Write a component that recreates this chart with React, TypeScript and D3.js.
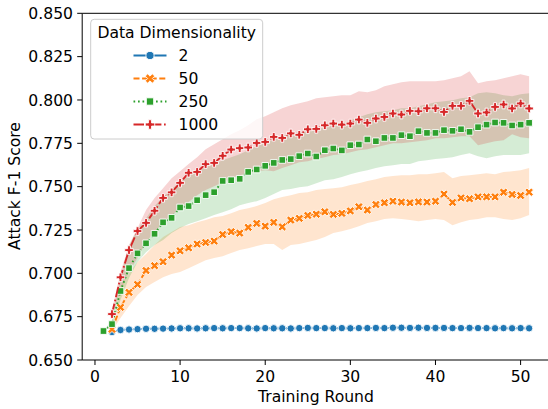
import React from "react";
import * as d3 from "d3";

// ---------- data ----------
const rounds1 = [1,2,3,4,5,6,7,8,9,10,11,12,13,14,15,16,17,18,19,20,21,22,23,24,25,26,27,28,29,30,31,32,33,34,35,36,37,38,39,40,41,42,43,44,45,46,47,48,49,50,51];
const rounds2 = [2,3,4,5,6,7,8,9,10,11,12,13,14,15,16,17,18,19,20,21,22,23,24,25,26,27,28,29,30,31,32,33,34,35,36,37,38,39,40,41,42,43,44,45,46,47,48,49,50,51];

const dim2Mean = [0.6661,0.6673,0.6676,0.6678,0.6680,0.6680,0.6681,0.6682,0.6683,0.6683,0.6682,0.6683,0.6684,0.6683,0.6684,0.6684,0.6683,0.6682,0.6684,0.6683,0.6683,0.6682,0.6684,0.6685,0.6684,0.6684,0.6683,0.6684,0.6683,0.6684,0.6684,0.6685,0.6684,0.6686,0.6686,0.6685,0.6686,0.6685,0.6685,0.6685,0.6684,0.6684,0.6685,0.6684,0.6684,0.6683,0.6684,0.6683,0.6684,0.6683];

const dim50Mean = [0.6677,0.6804,0.6890,0.6936,0.7016,0.7044,0.7067,0.7105,0.7130,0.7147,0.7169,0.7178,0.7186,0.7224,0.7240,0.7232,0.7265,0.7288,0.7272,0.7294,0.7268,0.7307,0.7317,0.7334,0.7341,0.7355,0.7340,0.7346,0.7360,0.7384,0.7365,0.7397,0.7407,0.7416,0.7411,0.7407,0.7412,0.7411,0.7416,0.7457,0.7409,0.7435,0.7430,0.7441,0.7441,0.7441,0.7468,0.7455,0.7449,0.7468];
const dim50Upper = [0.6684,0.6921,0.7001,0.7065,0.7111,0.7163,0.7209,0.7238,0.7267,0.7278,0.7295,0.7307,0.7324,0.7330,0.7347,0.7365,0.7376,0.7388,0.7405,0.7428,0.7440,0.7451,0.7463,0.7468,0.7480,0.7486,0.7491,0.7497,0.7509,0.7520,0.7532,0.7543,0.7555,0.7561,0.7566,0.7566,0.7572,0.7572,0.7578,0.7584,0.7549,0.7561,0.7566,0.7572,0.7578,0.7572,0.7584,0.7589,0.7595,0.7607];
const dim50Lower = [0.6667,0.6742,0.6811,0.6875,0.6921,0.6950,0.6978,0.6996,0.7007,0.7030,0.7053,0.7076,0.7088,0.7099,0.7117,0.7134,0.7145,0.7157,0.7169,0.7169,0.7134,0.7163,0.7169,0.7180,0.7192,0.7209,0.7232,0.7243,0.7255,0.7272,0.7290,0.7301,0.7313,0.7318,0.7313,0.7307,0.7301,0.7307,0.7313,0.7307,0.7278,0.7295,0.7307,0.7313,0.7324,0.7324,0.7313,0.7307,0.7318,0.7336];

const dim250Mean = [0.6667,0.6707,0.6898,0.7030,0.7115,0.7173,0.7228,0.7294,0.7320,0.7380,0.7388,0.7422,0.7451,0.7468,0.7533,0.7537,0.7545,0.7585,0.7599,0.7620,0.7637,0.7654,0.7659,0.7676,0.7691,0.7674,0.7710,0.7720,0.7709,0.7739,0.7743,0.7772,0.7762,0.7781,0.7781,0.7797,0.7791,0.7820,0.7810,0.7810,0.7826,0.7822,0.7831,0.7816,0.7843,0.7858,0.7870,0.7868,0.7853,0.7858,0.7868];
const dim250Upper = [0.6667,0.6731,0.6978,0.7157,0.7255,0.7318,0.7388,0.7440,0.7486,0.7526,0.7561,0.7589,0.7612,0.7630,0.7653,0.7670,0.7687,0.7710,0.7733,0.7751,0.7774,0.7791,0.7808,0.7814,0.7820,0.7831,0.7843,0.7854,0.7866,0.7883,0.7901,0.7918,0.7929,0.7935,0.7941,0.7952,0.7952,0.7964,0.7976,0.7987,0.7993,0.7999,0.8010,0.8016,0.8039,0.8045,0.8039,0.8027,0.8022,0.8033,0.8039];
const dim250Lower = [0.6667,0.6696,0.6846,0.6973,0.7065,0.7122,0.7163,0.7192,0.7232,0.7261,0.7284,0.7301,0.7318,0.7336,0.7353,0.7370,0.7393,0.7405,0.7416,0.7434,0.7457,0.7480,0.7486,0.7497,0.7503,0.7520,0.7537,0.7543,0.7555,0.7572,0.7584,0.7595,0.7607,0.7618,0.7624,0.7630,0.7630,0.7647,0.7653,0.7659,0.7664,0.7670,0.7682,0.7693,0.7676,0.7664,0.7676,0.7682,0.7682,0.7682,0.7693];

const dim1000Mean = [0.6765,0.6977,0.7134,0.7244,0.7291,0.7361,0.7435,0.7467,0.7522,0.7580,0.7585,0.7630,0.7637,0.7678,0.7714,0.7722,0.7726,0.7752,0.7758,0.7787,0.7781,0.7807,0.7799,0.7831,0.7833,0.7854,0.7864,0.7858,0.7864,0.7887,0.7868,0.7893,0.7902,0.7922,0.7916,0.7937,0.7935,0.7952,0.7952,0.7931,0.7966,0.7966,0.7995,0.7922,0.7928,0.7960,0.7974,0.7951,0.7980,0.7951];
const dim1000Upper = [0.6788,0.7007,0.7163,0.7261,0.7365,0.7434,0.7491,0.7549,0.7589,0.7630,0.7670,0.7716,0.7745,0.7774,0.7802,0.7825,0.7854,0.7889,0.7906,0.7929,0.7952,0.7970,0.7981,0.7993,0.8010,0.8016,0.8022,0.8027,0.8027,0.8050,0.8045,0.8056,0.8079,0.8091,0.8102,0.8108,0.8108,0.8108,0.8108,0.8114,0.8125,0.8137,0.8166,0.8096,0.8108,0.8114,0.8125,0.8137,0.8148,0.8137];
const dim1000Lower = [0.6748,0.6904,0.7007,0.7088,0.7180,0.7238,0.7295,0.7336,0.7370,0.7411,0.7451,0.7480,0.7503,0.7526,0.7549,0.7566,0.7578,0.7589,0.7595,0.7589,0.7607,0.7624,0.7641,0.7647,0.7659,0.7670,0.7682,0.7687,0.7699,0.7710,0.7716,0.7728,0.7739,0.7751,0.7751,0.7756,0.7762,0.7768,0.7779,0.7779,0.7785,0.7791,0.7791,0.7739,0.7751,0.7762,0.7768,0.7802,0.7785,0.7779];

const xTicks = [0, 10, 20, 30, 40, 50];
const yTicks = [0.65, 0.675, 0.7, 0.725, 0.75, 0.775, 0.8, 0.825, 0.85];
const legendLabels = ["2", "50", "250", "1000"];
const colors = ["#1f77b4", "#ff7f0e", "#2ca02c", "#d62728"];

// ---------- layout ----------
const W = 548, H = 409;
const FONT = "'DejaVu Sans', sans-serif";
const FS = 15.6;
const x = d3.scaleLinear().domain([-1.5, 53.5]).range([82.2, 550.4]);
const y = d3.scaleLinear().domain([0.65, 0.85]).range([360, 13.3]);

type Series = {
  label: string; color: string; rounds: number[]; mean: number[];
  lower?: number[]; upper?: number[]; dash: string; marker: string;
};

const series: Series[] = [
  { label: legendLabels[0], color: colors[0], rounds: rounds2, mean: dim2Mean, dash: "none", marker: "o" },
  { label: legendLabels[1], color: colors[1], rounds: rounds2, mean: dim50Mean, lower: dim50Lower, upper: dim50Upper, dash: "6,2.6", marker: "X" },
  { label: legendLabels[2], color: colors[2], rounds: rounds1, mean: dim250Mean, lower: dim250Lower, upper: dim250Upper, dash: "1.7,2.8", marker: "s" },
  { label: legendLabels[3], color: colors[3], rounds: rounds2, mean: dim1000Mean, lower: dim1000Lower, upper: dim1000Upper, dash: "10.5,2.6,1.7,2.6", marker: "P" },
];

function markerPath(kind: string, ms: number): string {
  const pts = (arr: number[][], div: number) =>
    "M" + arr.map(([a, b]) => `${(a / div) * ms},${(b / div) * ms}`).join("L") + "Z";
  if (kind === "X") {
    return pts([[-1,-2],[0,-1],[1,-2],[2,-1],[1,0],[2,1],[1,2],[0,1],[-1,2],[-2,1],[-1,0],[-2,-1]], 4);
  }
  if (kind === "P") {
    return pts([[-1,-3],[-1,-1],[-3,-1],[-3,1],[-1,1],[-1,3],[1,3],[1,1],[3,1],[3,-1],[1,-1],[1,-3]], 6);
  }
  if (kind === "s") {
    const h = ms * 0.3536;
    return `M${-h},${-h}L${h},${-h}L${h},${h}L${-h},${h}Z`;
  }
  const r = ms / 2;
  return `M${r},0A${r},${r} 0 1,1 ${-r},0A${r},${r} 0 1,1 ${r},0Z`;
}

function msFor(kind: string): number {
  if (kind === "o") return 7.4;
  if (kind === "s") return 9.4;
  return 8.6;
}

export default function App() {
  const bands = series.filter(s => s.lower && s.upper).map(s => {
    const idx = s.rounds.map((_, i) => i);
    const gen = d3.area<number>()
      .x(i => x(s.rounds[i]))
      .y0(i => y(s.lower![i]))
      .y1(i => y(s.upper![i]));
    return <path key={"band" + s.label} d={gen(idx) || ""} fill={s.color} fillOpacity={0.2} stroke="none" />;
  });

  const lines = series.map(s => {
    const idx = s.rounds.map((_, i) => i);
    const gen = d3.line<number>().x(i => x(s.rounds[i])).y(i => y(s.mean[i]));
    const ms = msFor(s.marker);
    const mp = markerPath(s.marker, ms);
    return (
      <g key={"line" + s.label}>
        <path d={gen(idx) || ""} fill="none" stroke={s.color} strokeWidth={1.9}
          strokeDasharray={s.dash === "none" ? undefined : s.dash} />
        {idx.map(i => (
          <path key={i} d={mp} transform={`translate(${x(s.rounds[i])},${y(s.mean[i])})`}
            fill={s.color} stroke="#fff" strokeWidth={0.9} />
        ))}
      </g>
    );
  });

  const left = 82.2, bottom = 360, top = 13.3;

  const legendRows = series.map((s, i) => {
    const cy = 55.5 + i * 23;
    const ms = msFor(s.marker) * 1.1;
    return (
      <g key={"leg" + s.label}>
        <line x1={133.5} x2={166.5} y1={cy} y2={cy} stroke={s.color} strokeWidth={1.9}
          strokeDasharray={s.dash === "none" ? undefined : s.dash} />
        <path d={markerPath(s.marker, ms)} transform={`translate(150,${cy})`} fill={s.color} stroke="#fff" strokeWidth={0.9} />
        <text x={178.5} y={cy + 5.7} fontSize={FS} fontFamily={FONT} fill="#000">{s.label}</text>
      </g>
    );
  });

  return (
    <svg width={W} height={H} style={{ position: "absolute", left: 0, top: 0, background: "#fff" }}
      xmlns="http://www.w3.org/2000/svg">
      <rect x={0} y={0} width={W} height={H} fill="#fff" />
      <defs>
        <clipPath id="plotclip">
          <rect x={left} y={top} width={W - left} height={bottom - top} />
        </clipPath>
      </defs>
      <g clipPath="url(#plotclip)">
        {bands}
        {lines}
      </g>
      {/* spines */}
      <line x1={left} x2={left} y1={top} y2={bottom} stroke="#000" strokeWidth={1} />
      <line x1={left} x2={W} y1={bottom} y2={bottom} stroke="#000" strokeWidth={1} />
      <line x1={left} x2={W} y1={top} y2={top} stroke="#000" strokeWidth={1} />
      {/* x ticks */}
      {xTicks.map(t => (
        <g key={"xt" + t}>
          <line x1={x(t)} x2={x(t)} y1={bottom} y2={bottom + 5} stroke="#000" strokeWidth={1} />
          <text x={x(t)} y={381.8} textAnchor="middle" fontSize={FS} fontFamily={FONT} fill="#000">{t}</text>
        </g>
      ))}
      {/* y ticks */}
      {yTicks.map(t => (
        <g key={"yt" + t}>
          <line x1={left - 5} x2={left} y1={y(t)} y2={y(t)} stroke="#000" strokeWidth={1} />
          <text x={73} y={y(t) + 5.6} textAnchor="end" fontSize={FS} fontFamily={FONT} fill="#000">{t.toFixed(3)}</text>
        </g>
      ))}
      <text x={316} y={401.5} textAnchor="middle" fontSize={FS} fontFamily={FONT} fill="#000">Training Round</text>
      <text transform={`translate(19.5,186) rotate(-90)`} textAnchor="middle" fontSize={FS} fontFamily={FONT} fill="#000">Attack F-1 Score</text>
      {/* legend */}
      <rect x={90.7} y={19.3} width={172} height={119.7} rx={3.5} fill="#fff" fillOpacity={0.8} stroke="#cccccc" strokeWidth={1} />
      <text x={176.7} y={37.9} textAnchor="middle" fontSize={FS} fontFamily={FONT} fill="#000">Data Dimensionality</text>
      {legendRows}
    </svg>
  );
}
